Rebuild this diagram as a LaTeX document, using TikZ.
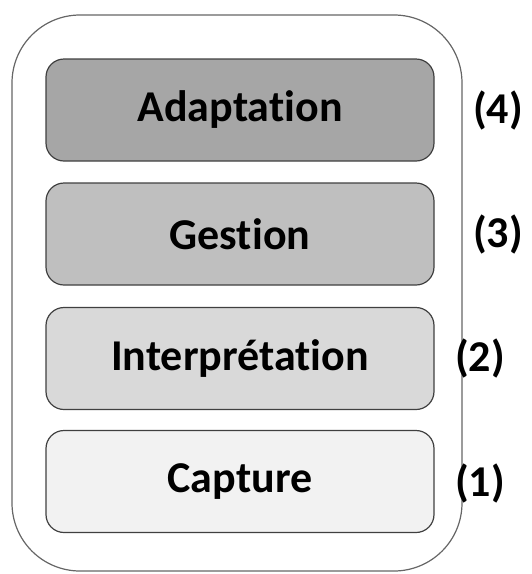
\documentclass[tikz,border=0pt]{standalone}
\usepackage{fontspec}
\setmainfont[Ligatures={NoCommon}]{Carlito}
\definecolor{c4}{HTML}{A6A6A6}
\definecolor{c3}{HTML}{BFBFBF}
\definecolor{c2}{HTML}{D9D9D9}
\definecolor{c1}{HTML}{F2F2F2}
\definecolor{edge}{HTML}{404040}
\begin{document}
\begin{tikzpicture}[x=1pt,y=-1pt,
  layer/.style={draw=edge, line width=1.2pt, rounded corners=18pt, minimum width=388pt, minimum height=102pt, font=\fontsize{44}{50}\selectfont\bfseries, inner sep=0pt},
  num/.style={font=\fontsize{44}{50}\selectfont\bfseries, inner sep=0pt}]
\useasboundingbox (0,0) rectangle (532,574);
\draw[draw=edge!80, line width=1.2pt, rounded corners=68pt] (12,15) rectangle (462,571);
\node[layer, fill=c4] (adapt) at (240,110) {Adaptation};
\node[layer, fill=c3] (gest) at (240,234) {Gestion};
\node[layer, fill=c2] (interp) at (240,358.5) {Interprétation};
\node[layer, fill=c1] (capt) at (240,481.5) {Capture};
\node[num] (n4) at (498,110) {(4)};
\node[num] (n3) at (498,234) {(3)};
\node[num] (n2) at (480,358) {(2)};
\node[num] (n1) at (480,483) {(1)};
\end{tikzpicture}
\end{document}
